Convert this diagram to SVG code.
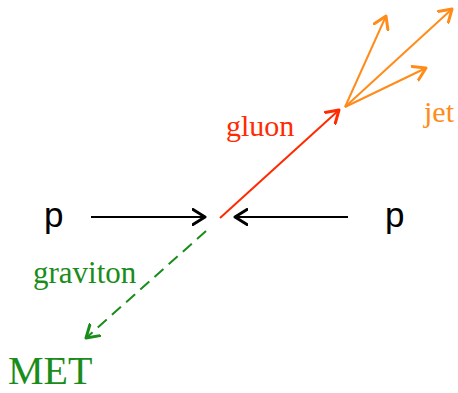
<svg xmlns="http://www.w3.org/2000/svg" width="458" height="393" viewBox="0 0 458 393">
<style>
.lbl{font-family:"Liberation Serif","Times New Roman",serif}
.p{font-family:"Liberation Sans",Arial,sans-serif;font-size:35px;fill:#000}
.ln{fill:none;stroke-linecap:butt}
</style>
<defs>
<marker id="mk" viewBox="-13 -9 15 18" markerWidth="15" markerHeight="18" refX="0" refY="0" orient="auto" markerUnits="userSpaceOnUse">
<path d="M-12,-7.5 L0,0 L-12,7.5" fill="none" stroke="context-stroke" stroke-width="3" stroke-linecap="round" stroke-linejoin="round"/>
</marker>
</defs>
<rect width="458" height="393" fill="#fff"/>
<g id="p-left"><text class="p" x="44" y="227">p</text></g>
<g id="p-right"><text class="p" x="385" y="227">p</text></g>
<g id="gluon-label"><text class="lbl" x="226" y="136" font-size="30" fill="#ff2a00">gluon</text></g>
<g id="jet-label"><text class="lbl" x="424" y="122" font-size="30" fill="#ff8c1a">jet</text></g>
<g id="graviton-label"><text class="lbl" x="33" y="283" font-size="31" fill="#1a8c1a">graviton</text></g>
<g id="met-label"><text class="lbl" x="8" y="384" font-size="40" fill="#1a8c1a">MET</text></g>
<g id="connectors">
<line class="ln" x1="91" y1="217" x2="205" y2="217" stroke="#000" stroke-width="2" marker-end="url(#mk)"/>
<line class="ln" x1="348" y1="217" x2="235" y2="217" stroke="#000" stroke-width="2" marker-end="url(#mk)"/>
<line class="ln" x1="220" y1="218" x2="339" y2="110" stroke="#ff2a00" stroke-width="2" marker-end="url(#mk)"/>
<line class="ln" x1="345" y1="107" x2="386" y2="16" stroke="#ff8c1a" stroke-width="2" marker-end="url(#mk)"/>
<line class="ln" x1="345" y1="107" x2="452" y2="9" stroke="#ff8c1a" stroke-width="2" marker-end="url(#mk)"/>
<line class="ln" x1="345" y1="107" x2="426" y2="68" stroke="#ff8c1a" stroke-width="2" marker-end="url(#mk)"/>
<line class="ln" x1="206" y1="231" x2="86" y2="338" stroke="#1a8c1a" stroke-width="2" stroke-dasharray="12,7" marker-end="url(#mk)"/>
</g>
</svg>
